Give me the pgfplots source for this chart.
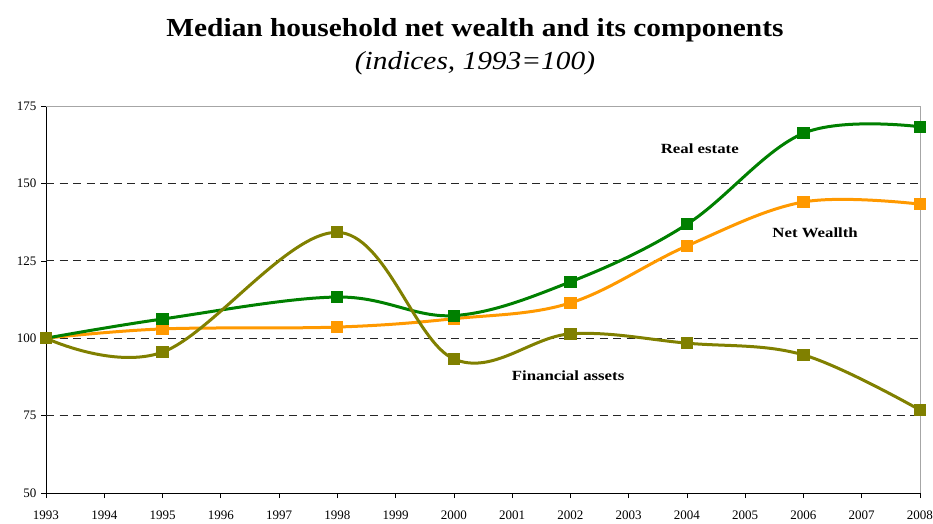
\documentclass[border=0pt]{standalone}
\usepackage{fontspec}
\setmainfont{Liberation Serif}
\newfontfamily\titlefont[FakeStretch=1.13]{Liberation Serif}
\newfontfamily\labelfont[FakeStretch=1.2]{Liberation Serif}
\usepackage{pgfplots}
\pgfplotsset{compat=1.18}
\definecolor{realest}{HTML}{008000}
\definecolor{netw}{HTML}{FF9900}
\definecolor{finass}{HTML}{808000}

\begin{document}
\begin{tikzpicture}
\begin{axis}[
  scale only axis, width=874pt, height=387pt,
  xmin=1993, xmax=2008, ymin=50, ymax=175,
  xtick={1993,...,2008}, ytick={50,75,...,175},
  axis x line*=bottom, axis y line*=left,
  axis line style={black, line width=0.8pt, -},
  tick align=outside, major tick length=5pt,
  tick style={black, line width=0.6pt},
  /pgf/number format/.cd, 1000 sep={}, assume math mode=true,
  /pgfplots/.cd,
  tick label style={font=\fontsize{13}{13}\selectfont},
  xticklabel style={yshift=-9pt},
  yticklabel style={xshift=-1pt},
  extra y ticks={75,100,125,150}, extra y tick labels={},
  extra y tick style={grid=major, major tick length=0pt},
  grid style={black!85, line width=0.8pt, dash pattern=on 8pt off 5.5pt},
  clip=false,
  every axis plot/.append style={smooth, tension=0.6, line width=3pt,
    mark=square*, mark size=4.6pt, mark options={solid}},
]
\draw[gray!70, line width=0.8pt] (rel axis cs:0,1) -- (rel axis cs:1,1) -- (rel axis cs:1,0);

\addplot[color=netw] coordinates {
  (1993,100) (1995,103.0) (1998,103.6) (2000,106.3)
  (2002,111.4) (2004,129.8) (2006,144.0) (2008,143.3)};
\addplot[color=realest] coordinates {
  (1993,100) (1995,106.2) (1998,113.3) (2000,107.3)
  (2002,118.2) (2004,136.8) (2006,166.2) (2008,168.3)};
\addplot[color=finass] coordinates {
  (1993,100) (1995,95.5) (1998,134.2) (2000,93.3)
  (2002,101.4) (2004,98.4) (2006,94.6) (2008,76.8)};

\node[font=\labelfont\bfseries\fontsize{14}{14}\selectfont] at (axis cs:2004.22,161.1) {Real estate};
\node[font=\labelfont\bfseries\fontsize{14}{14}\selectfont] at (axis cs:2006.2,134) {Net Weallth};
\node[font=\labelfont\bfseries\fontsize{14}{14}\selectfont] at (axis cs:2001.96,87.8) {Financial assets};

\node[font=\titlefont\bfseries\fontsize{26}{26}\selectfont] at ([xshift=-8pt,yshift=76pt]rel axis cs:0.5,1) {Median household net wealth and its components};
\node[font=\titlefont\itshape\fontsize{26}{26}\selectfont] at ([xshift=-8pt,yshift=43pt]rel axis cs:0.5,1) {(indices, 1993=100)};
\end{axis}
\pgfresetboundingbox
\path[use as bounding box] ([xshift=-46pt,yshift=-30pt]current axis.south west) rectangle ([xshift=13pt,yshift=106pt]current axis.north east);
\end{tikzpicture}
\end{document}
